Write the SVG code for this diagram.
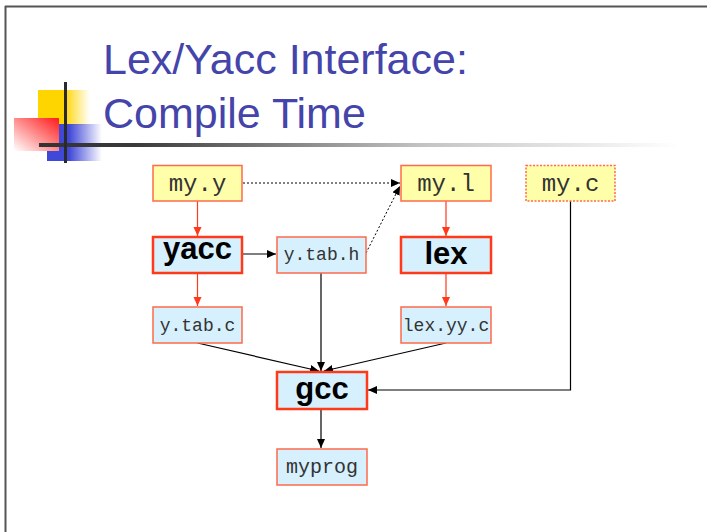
<svg xmlns="http://www.w3.org/2000/svg" width="707" height="532" viewBox="0 0 707 532">
  <style>
    .title { font-family: "Liberation Sans", Arial, sans-serif; font-size: 43px; fill: #4444aa; }
    .src { fill: #ffffaa; stroke: #ff6a4a; stroke-width: 1.5; }
    .file { fill: #d6f0fe; stroke: #ff6a4a; stroke-width: 1.5; }
    .tool { fill: #d6f0fe; stroke: #ff3a1a; stroke-width: 2.5; }
    .mono { font-family: "Liberation Mono", "Courier New", monospace; fill: #333; text-anchor: middle; }
    .big { font-size: 24px; }
    .small { font-size: 18px; }
    .bold { font-family: "Liberation Sans", Arial, sans-serif; font-weight: bold; font-size: 31px; fill: #000; text-anchor: middle; }
    .red { stroke: #ff3a1a; stroke-width: 1.2; fill: none; }
    .blk { stroke: #000; stroke-width: 1.2; fill: none; }
    .dot { stroke: #000; stroke-width: 1; stroke-dasharray: 2 2; fill: none; }
  </style>
  <defs>
    <marker id="ahRed" markerUnits="userSpaceOnUse" markerWidth="10" markerHeight="10" refX="9" refY="4" orient="auto">
      <path d="M0,0 L9,4 L0,8 Z" fill="#ff3a1a"/>
    </marker>
    <marker id="ahBlk" markerUnits="userSpaceOnUse" markerWidth="10" markerHeight="10" refX="9" refY="4" orient="auto">
      <path d="M0,0 L9,4 L0,8 Z" fill="#000"/>
    </marker>
    <linearGradient id="gYellow" x1="0" y1="0" x2="1" y2="0">
      <stop offset="0" stop-color="#ffd500"/>
      <stop offset="0.5" stop-color="#ffd500"/>
      <stop offset="1" stop-color="#ffd500" stop-opacity="0"/>
    </linearGradient>
    <linearGradient id="gBlue" x1="0" y1="0" x2="1" y2="0">
      <stop offset="0" stop-color="#4048d8"/>
      <stop offset="0.4" stop-color="#4048d8"/>
      <stop offset="1" stop-color="#4048d8" stop-opacity="0"/>
    </linearGradient>
    <linearGradient id="gRed" x1="1" y1="0" x2="0" y2="1">
      <stop offset="0" stop-color="#ff1a1a"/>
      <stop offset="1" stop-color="#ffffff"/>
    </linearGradient>
    <linearGradient id="gRule" x1="0" y1="0" x2="1" y2="0">
      <stop offset="0" stop-color="#333"/>
      <stop offset="0.15" stop-color="#3a3a3a"/>
      <stop offset="0.6" stop-color="#c4c4c4"/>
      <stop offset="1" stop-color="#fff"/>
    </linearGradient>
  </defs>

  <!-- slide background and frame -->
  <rect x="0" y="0" width="707" height="532" fill="#fff"/>
  <line x1="5" y1="6.5" x2="707" y2="6.5" stroke="#555" stroke-width="2"/>
  <line x1="5.5" y1="6" x2="5.5" y2="532" stroke="#555" stroke-width="2"/>

  <!-- title ornament -->
  <g id="ornament">
    <rect x="38" y="90" width="52" height="35" fill="url(#gYellow)"/>
    <rect x="47" y="124" width="55" height="37" fill="url(#gBlue)"/>
    <rect x="14" y="118" width="45" height="33" fill="url(#gRed)"/>
    <rect x="39" y="143" width="641" height="4" fill="url(#gRule)"/>
    <rect x="64" y="82" width="3" height="81" fill="#2a2a2a"/>
  </g>

  <!-- title -->
  <text class="title" x="103" y="74">Lex/Yacc Interface:</text>
  <text class="title" x="103" y="128">Compile Time</text>

  <!-- connectors -->
  <g id="connectors">
    <line class="red" x1="197.5" y1="201" x2="197.5" y2="236" marker-end="url(#ahRed)"/>
    <line class="red" x1="197.5" y1="273" x2="197.5" y2="306" marker-end="url(#ahRed)"/>
    <line class="red" x1="446" y1="201" x2="446" y2="236" marker-end="url(#ahRed)"/>
    <line class="red" x1="446" y1="273" x2="446" y2="306" marker-end="url(#ahRed)"/>
    <line class="blk" x1="242" y1="254" x2="276" y2="254" marker-end="url(#ahBlk)"/>
    <line class="dot" x1="243" y1="183" x2="400" y2="183" marker-end="url(#ahBlk)"/>
    <line class="dot" x1="366" y1="253" x2="400" y2="186" marker-end="url(#ahBlk)"/>
    <line class="blk" x1="321" y1="273" x2="321" y2="371" marker-end="url(#ahBlk)"/>
    <line class="blk" x1="197.5" y1="343" x2="319" y2="371" marker-end="url(#ahBlk)"/>
    <line class="blk" x1="446" y1="343" x2="324" y2="371" marker-end="url(#ahBlk)"/>
    <polyline class="blk" points="570.5,201 570.5,390 368,390" marker-end="url(#ahBlk)"/>
    <line class="blk" x1="321" y1="409" x2="321" y2="448" marker-end="url(#ahBlk)"/>
  </g>

  <!-- nodes -->
  <g id="my_y">
    <rect class="src" x="153" y="165.5" width="89" height="35.5"/>
    <text class="mono big" x="197.5" y="191">my.y</text>
  </g>
  <g id="my_l">
    <rect class="src" x="401" y="165.5" width="90" height="35.5"/>
    <text class="mono big" x="446" y="191">my.l</text>
  </g>
  <g id="my_c">
    <rect class="src" x="526" y="165.5" width="89" height="35.5" stroke-dasharray="2 1.5"/>
    <text class="mono big" x="570.5" y="191">my.c</text>
  </g>
  <g id="yacc">
    <rect class="tool" x="153" y="237" width="89" height="36"/>
    <text class="bold" x="197.5" y="259">yacc</text>
  </g>
  <g id="y_tab_h">
    <rect class="file" x="277" y="237" width="89" height="36"/>
    <text class="mono small" x="321.5" y="260">y.tab.h</text>
  </g>
  <g id="lex">
    <rect class="tool" x="401" y="237" width="90" height="36"/>
    <text class="bold" x="446" y="264">lex</text>
  </g>
  <g id="y_tab_c">
    <rect class="file" x="153" y="307" width="89" height="36"/>
    <text class="mono small" x="197.5" y="331">y.tab.c</text>
  </g>
  <g id="lex_yy_c">
    <rect class="file" x="401" y="307" width="90" height="36"/>
    <text class="mono small" x="446" y="331">lex.yy.c</text>
  </g>
  <g id="gcc">
    <rect class="tool" x="277" y="372" width="90" height="37"/>
    <text class="bold" x="322" y="399">gcc</text>
  </g>
  <g id="myprog">
    <rect class="file" x="277" y="449" width="90" height="36"/>
    <text class="mono" x="322" y="473" font-size="20">myprog</text>
  </g>
</svg>
